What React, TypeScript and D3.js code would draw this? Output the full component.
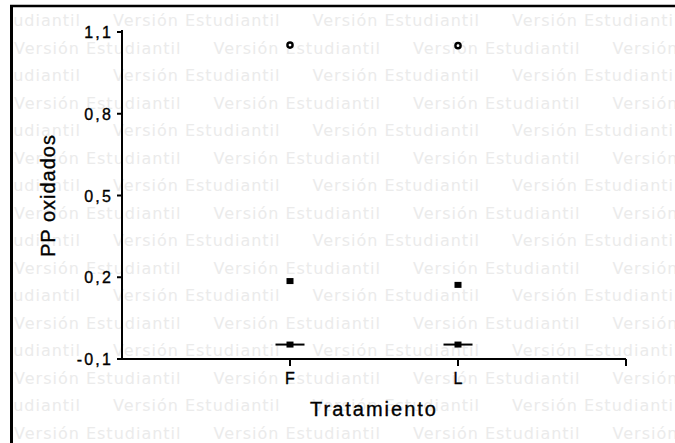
import React from 'react';
import * as d3 from 'd3';

const categories = ['F', 'L'];
const boxValues = [-0.047, -0.047];
const meanValues = [0.186, 0.172];
const outlierValues = [1.052, 1.05];
const yTicks = [-0.1, 0.2, 0.5, 0.8, 1.1];

const W = 675, H = 443;
const WATERMARK = 'Versión Estudiantil';

const App = () => {
  const x = d3.scaleLinear().domain([0, categories.length + 1]).range([122, 626]);
  const y = d3.scaleLinear().domain([-0.1, 1.1]).range([359, 32]);
  const fmt = (v: number) => d3.format('.1f')(v).replace('.', ',').replace('−', '-');

  // filas de marca de agua
  const rows = d3.range(17).map(i => ({
    y: 26 + 27.5 * i,
    offset: i % 2 === 0 ? 113 : 14,
  }));

  const font = '"Liberation Sans", Arial, sans-serif';

  return (
    <svg width={W} height={H} style={{ position: 'absolute', left: 0, top: 0, background: '#fff' }}>
      <defs>
        <clipPath id="inner">
          <rect x={13} y={7} width={W - 13} height={H - 7} />
        </clipPath>
      </defs>
      <g clipPath="url(#inner)" fill="#ebebeb" fontFamily='"DejaVu Sans", Verdana, sans-serif' fontSize={16} letterSpacing={1}>
        {rows.map((r, i) => (
          <g key={i}>
            {d3.range(-1, 4).map(k => (
              <text key={k} x={r.offset + 199.5 * k} y={r.y}>{WATERMARK}</text>
            ))}
          </g>
        ))}
      </g>

      {/* marco */}
      <line x1={11.5} x2={11.5} y1={5} y2={H} stroke="#000" strokeWidth={3} />
      <line x1={10} x2={W} y1={6} y2={6} stroke="#000" strokeWidth={2.5} />

      {/* eje y */}
      <line x1={x(0)} x2={x(0)} y1={y(1.1) - 2} y2={y(-0.1)} stroke="#000" strokeWidth={2} />
      {yTicks.map(t => (
        <g key={t} transform={`translate(${x(0)},${y(t)})`}>
          <line x1={-5} x2={0} stroke="#000" strokeWidth={2} />
          <text x={-9} y={6} textAnchor="end" fontFamily={font} fontSize={16} letterSpacing={2.2} fill="#000" stroke="#000" strokeWidth={0.35}>{fmt(t)}</text>
        </g>
      ))}

      {/* eje x */}
      <line x1={x(0)} x2={x(categories.length + 1)} y1={y(-0.1)} y2={y(-0.1)} stroke="#000" strokeWidth={2} />
      {d3.range(1, categories.length + 2).map(i => (
        <line key={i} x1={x(i)} x2={x(i)} y1={y(-0.1)} y2={y(-0.1) + 7} stroke="#000" strokeWidth={2} />
      ))}
      {categories.map((c, i) => (
        <text key={c} x={x(i + 1)} y={384} textAnchor="middle" fontFamily={font} fontSize={16} fill="#000" stroke="#000" strokeWidth={0.35}>{c}</text>
      ))}

      {/* datos */}
      {categories.map((c, i) => {
        const cx = x(i + 1);
        return (
          <g key={c}>
            <line x1={cx - 14.5} x2={cx + 14.5} y1={y(boxValues[i])} y2={y(boxValues[i])} stroke="#000" strokeWidth={2} />
            <rect x={cx - 3.5} y={y(boxValues[i]) - 3} width={7} height={6} fill="#000" />
            <rect x={cx - 3.5} y={y(meanValues[i]) - 3} width={7} height={6} fill="#000" />
            <circle cx={cx} cy={y(outlierValues[i])} r={2.6} fill="#fff" stroke="#000" strokeWidth={2.4} />
          </g>
        );
      })}

      {/* títulos */}
      <text x={374} y={416} textAnchor="middle" fontFamily={font} fontSize={20} letterSpacing={2} fill="#000" stroke="#000" strokeWidth={0.35}>Tratamiento</text>
      <text transform={`translate(55,${(y(1.1) + y(-0.1)) / 2}) rotate(-90)`} textAnchor="middle" fontFamily={font} fontSize={20} letterSpacing={1} fill="#000" stroke="#000" strokeWidth={0.35}>PP oxidados</text>
    </svg>
  );
};

export default App;
